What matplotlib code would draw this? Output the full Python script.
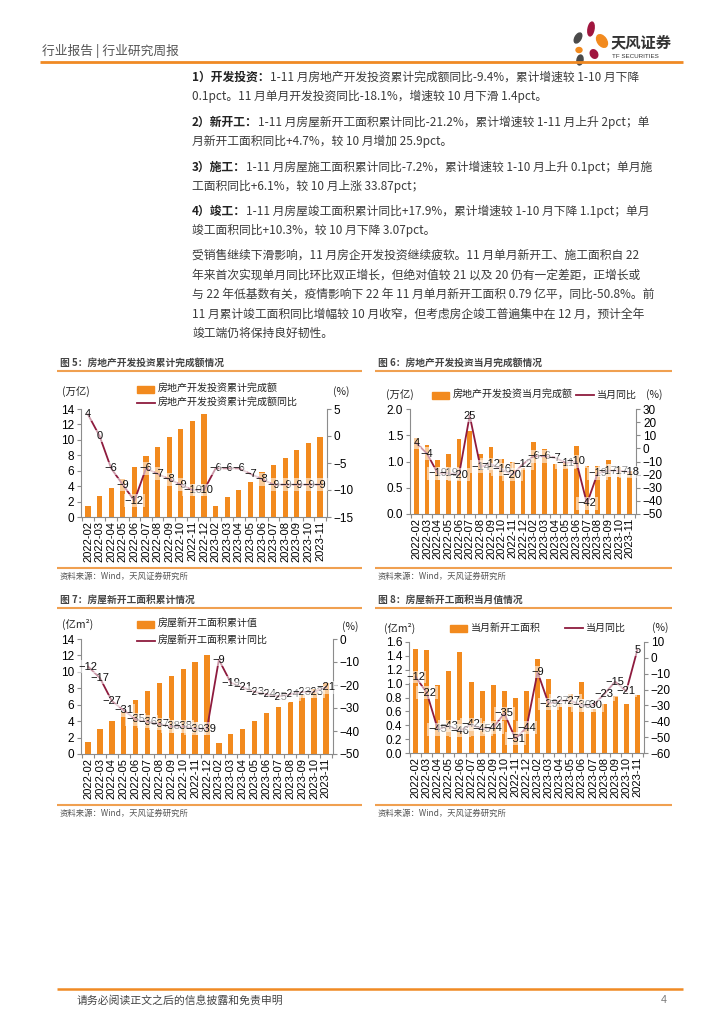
import matplotlib
matplotlib.use('Agg')
import matplotlib.pyplot as plt
from matplotlib.patches import Rectangle, Ellipse
from matplotlib.ticker import FixedLocator, FormatStrFormatter
import numpy as np

plt.rcParams['font.family'] = ['Liberation Sans', 'Noto Sans CJK SC', 'DejaVu Sans']
plt.rcParams['axes.unicode_minus'] = True

# ---------------- data ----------------
cats = ['2022-02', '2022-03', '2022-04', '2022-05', '2022-06', '2022-07', '2022-08',
        '2022-09', '2022-10', '2022-11', '2022-12', '2023-02', '2023-03', '2023-04',
        '2023-05', '2023-06', '2023-07', '2023-08', '2023-09', '2023-10', '2023-11']

inv_cum = [1.45, 2.78, 3.77, 4.97, 6.43, 7.95, 9.09, 10.36, 11.40, 12.38, 13.29,
           1.37, 2.59, 3.55, 4.52, 5.86, 6.76, 7.69, 8.71, 9.59, 10.40]
inv_cum_yoy = [4, 0, -6, -9, -12, -6, -7, -8, -9, -10, -10,
               -6, -6, -6, -7, -8, -9, -9, -9, -9, -9]

inv_mon = [1.44, 1.31, 1.03, 1.14, 1.43, 1.59, 1.14, 1.27, 1.04, 0.99, 0.88,
           1.37, 1.23, 0.95, 0.97, 1.29, 0.91, 0.91, 1.03, 0.89, 0.82]
inv_mon_yoy = [4, -4, -19, -19, -20, 25, -14, -12, -16, -20, -12,
               -6, -6, -7, -11, -10, -42, -19, -17, -17, -18]

start_cum = [1.5, 3.0, 4.0, 5.1, 6.6, 7.7, 8.6, 9.5, 10.4, 11.2, 12.1,
             1.36, 2.4, 3.1, 4.0, 5.0, 5.7, 6.3, 7.2, 7.9, 8.7]
start_cum_yoy = [-12, -17, -27, -31, -35, -36, -37, -38, -38, -39, -39,
                 -9, -19, -21, -23, -24, -25, -24, -23, -23, -21]

start_mon = [1.50, 1.49, 0.98, 1.18, 1.46, 1.02, 0.90, 0.98, 0.90, 0.79, 0.90,
             1.36, 1.06, 0.71, 0.85, 1.02, 0.63, 0.70, 0.82, 0.71, 0.83]
start_mon_yoy = [-12, -22, -45, -43, -46, -42, -45, -44, -35, -51, -44,
                 -9, -29, -27, -27, -30, -30, -23, -15, -21, 5]

body_lines = [
    "1）开发投资：1-11 月房地产开发投资累计完成额同比-9.4%，累计增速较 1-10 月下降",
    "0.1pct。11 月单月开发投资同比-18.1%，增速较 10 月下滑 1.4pct。",
    "2）新开工：1-11 月房屋新开工面积累计同比-21.2%，累计增速较 1-11 月上升 2pct；单",
    "月新开工面积同比+4.7%，较 10 月增加 25.9pct。",
    "3）施工：1-11 月房屋施工面积累计同比-7.2%，累计增速较 1-10 月上升 0.1pct；单月施",
    "工面积同比+6.1%，较 10 月上涨 33.87pct；",
    "4）竣工：1-11 月房屋竣工面积累计同比+17.9%，累计增速较 1-10 月下降 1.1pct；单月",
    "竣工面积同比+10.3%，较 10 月下降 3.07pct。",
    "受销售继续下滑影响，11 月房企开发投资继续疲软。11 月单月新开工、施工面积自 22",
    "年来首次实现单月同比环比双正增长，但绝对值较 21 以及 20 仍有一定差距，正增长或",
    "与 22 年低基数有关，疫情影响下 22 年 11 月单月新开工面积 0.79 亿平，同比-50.8%。前",
    "11 月累计竣工面积同比增幅较 10 月收窄，但考虑房企竣工普遍集中在 12 月，预计全年",
    "竣工端仍将保持良好韧性。",
]
body_bold = ["1）开发投资：", None, "2）新开工：", None, "3）施工：", None, "4）竣工：",
             None, None, None, None, None, None]
body_y = [77, 96, 122, 141, 167, 186, 211, 230, 255, 275, 294, 314, 333]

# ---------------- style ----------------
ORANGE = '#F28A1E'
CRIMSON = '#8E1B3E'
GRAY = '#8C8C8C'
TXT = '#3A3A3A'
LINE_OR = '#F0A050'
CJK = ['Noto Sans CJK SC', 'DejaVu Sans']

W, H = 724, 1024
fig = plt.figure(figsize=(7.24, 10.24), dpi=100)
bg = fig.add_axes([0, 0, 1, 1])
bg.set_xlim(0, W)
bg.set_ylim(H, 0)
bg.axis('off')
bg.set_zorder(-5)


def hline(y, x0, x1, lw=1.6, color=LINE_OR):
    bg.plot([x0, x1], [y, y], color=color, lw=lw, solid_capstyle='butt')


# header
bg.text(42, 51, "行业报告 | 行业研究周报", fontsize=9.2, color='#555555', va='center', family=CJK)
hline(62, 40, 683, lw=2.0, color='#F08A24')
# logo
petals = [((591, 29), 6, 14, 10, '#A0153E'), ((602, 41), 9, 14, -35, '#F28A1E'),
          ((578, 38), 6, 11, 30, '#4A4A4A'), ((579, 50), 6, 5, 0, '#F28A1E'),
          ((594, 54), 7, 9, -30, '#A0153E'), ((580, 60), 6, 10, 10, '#4A4A4A')]
for (cx, cy), w, h, ang, c in petals:
    bg.add_patch(Ellipse((cx, cy), w, h, angle=ang, color=c))
bg.text(611, 42, "天风证券", fontsize=11, fontweight='bold', color='#333333', va='center', family=CJK)
bg.text(612, 56, "TF SECURITIES", fontsize=4.5, color='#333333', va='center')

# body text
renderer = fig.canvas.get_renderer()
X0 = 192
for line, bold, y in zip(body_lines, body_bold, body_y):
    if bold:
        t1 = bg.text(X0, y, bold, fontsize=8.5, color='#222222', fontweight='bold', va='center', family=CJK)
        bb = t1.get_window_extent(renderer)
        rest = line[len(bold):]
        bg.text(X0 + bb.width, y, rest, fontsize=8.5, color=TXT, va='center', family=CJK)
    else:
        bg.text(X0, y, line, fontsize=8.5, color=TXT, va='center', family=CJK)


# ---------------- charts ----------------
def ax_at(x0, y0, x1, y1):
    return fig.add_axes([x0 / W, 1 - y1 / H, (x1 - x0) / W, (y1 - y0) / H])


def style_spines(a):
    for s in a.spines.values():
        s.set_color(GRAY)
        s.set_linewidth(0.8)
    a.spines['top'].set_visible(False)


def chart(box, bars, line, ylim_l, yticks_l, fmt_l, ylim_r, yticks_r):
    ax = ax_at(*box)
    x = np.arange(len(cats))
    ax.bar(x, bars, width=0.45, color=ORANGE, zorder=2)
    ax.set_xlim(-0.6, len(cats) - 0.4)
    ax.set_ylim(*ylim_l)
    ax.set_yticks(yticks_l)
    ax.yaxis.set_major_formatter(FormatStrFormatter(fmt_l))
    ax.set_xticks(x)
    ax.set_xticklabels(cats, rotation=90, fontsize=8)
    ax.xaxis.set_minor_locator(FixedLocator(np.arange(-0.5, len(cats), 1.0)))
    ax.tick_params(axis='x', which='major', length=0, pad=3)
    ax.tick_params(axis='x', which='minor', length=3, color=GRAY, width=0.8)
    ax.tick_params(axis='y', length=3, color=GRAY, width=0.8, labelsize=8.5, pad=2)
    ax.patch.set_visible(False)
    style_spines(ax)
    ax.spines['right'].set_visible(False)
    ax2 = ax.twinx()
    ax2.plot(x, line, color=CRIMSON, lw=1.3, zorder=3)
    ax2.set_ylim(*ylim_r)
    ax2.set_yticks(yticks_r)
    ax2.tick_params(axis='y', length=3, color=GRAY, width=0.8, labelsize=8.5, pad=2)
    style_spines(ax2)
    ax2.spines['left'].set_visible(False)
    ax2.spines['bottom'].set_visible(False)
    for xi, v in zip(x, line):
        s = str(v).replace('-', '\u2212')
        ax2.text(xi, v, s, ha='center', va='center', fontsize=8, color='#111111', zorder=5,
                 bbox=dict(boxstyle='square,pad=0.12', fc='white', ec='none', alpha=0.55))
    return ax, ax2


def legend_bar(x, y, label):
    bg.add_patch(Rectangle((x, y - 3.5), 17, 7, color=ORANGE))
    bg.text(x + 21, y, label, fontsize=7.2, va='center', color='#222222', family=CJK)


def legend_line(x, y, label):
    bg.plot([x, x + 18], [y, y], color=CRIMSON, lw=1.3)
    bg.text(x + 21, y, label, fontsize=7.2, va='center', color='#222222', family=CJK)


def frame(x0, x1, ytitle, title, ysrc):
    bg.text(x0 + 3, ytitle, title, fontsize=7.0, fontweight='bold', color='#444444', va='center', family=CJK)
    hline(ytitle + 8, x0, x1, lw=1.5)
    hline(ysrc - 8, x0, x1, lw=1.5)
    bg.text(x0 + 3, ysrc, "资料来源：Wind，天风证券研究所", fontsize=6.0, color='#555555', va='center', family=CJK)


# Figure 5
frame(57, 362, 363, "图 5：房地产开发投资累计完成额情况", 576)
chart((81, 409, 327, 517), inv_cum, inv_cum_yoy, (0, 14), np.arange(0, 15, 2), '%d',
      (-15, 5), np.arange(-15, 6, 5))
bg.text(62, 392, "(万亿)", fontsize=7.5, va='center', color='#222222', family=CJK)
bg.text(333, 392, "(%)", fontsize=7.5, va='center', color='#222222', family=CJK)
legend_bar(137, 389, "房地产开发投资累计完成额")
legend_line(137, 403, "房地产开发投资累计完成额同比")

# Figure 6
frame(375, 672, 363, "图 6：房地产开发投资当月完成额情况", 576)
chart((410, 409, 636, 514), inv_mon, inv_mon_yoy, (0, 2.0), np.arange(0, 2.01, 0.5), '%.1f',
      (-50, 30), np.arange(-50, 31, 10))
bg.text(386, 395, "(万亿)", fontsize=7.5, va='center', color='#222222', family=CJK)
bg.text(646, 395, "(%)", fontsize=7.5, va='center', color='#222222', family=CJK)
legend_bar(432, 395, "房地产开发投资当月完成额")
legend_line(576, 395, "当月同比")

# Figure 7
frame(57, 362, 600, "图 7：房屋新开工面积累计情况", 813)
chart((81, 639, 333, 754), start_cum, start_cum_yoy, (0, 14), np.arange(0, 15, 2), '%d',
      (-50, 0), np.arange(-50, 1, 10))
bg.text(62, 624, "(亿m²)", fontsize=7.5, va='center', color='#222222', family=CJK)
bg.text(342, 627, "(%)", fontsize=7.5, va='center', color='#222222', family=CJK)
legend_bar(137, 624, "房屋新开工面积累计值")
legend_line(137, 641, "房屋新开工面积累计同比")

# Figure 8
frame(375, 672, 600, "图 8：房屋新开工面积当月值情况", 813)
chart((409, 642, 644, 753), start_mon, start_mon_yoy, (0, 1.6), np.arange(0, 1.61, 0.2), '%.1f',
      (-60, 10), np.arange(-60, 11, 10))
bg.text(384, 628, "(亿m²)", fontsize=7.5, va='center', color='#222222', family=CJK)
bg.text(652, 628, "(%)", fontsize=7.5, va='center', color='#222222', family=CJK)
legend_bar(450, 628, "当月新开工面积")
legend_line(565, 628, "当月同比")

# footer
hline(989, 57, 683, lw=1.8, color='#F08A24')
bg.text(77, 1000, "请务必阅读正文之后的信息披露和免责申明", fontsize=7.8, color='#444444', va='center', family=CJK)
bg.text(667, 1000, "4", fontsize=7.8, color='#777777', va='center', ha='right')

fig.savefig('out.png', dpi=100)
